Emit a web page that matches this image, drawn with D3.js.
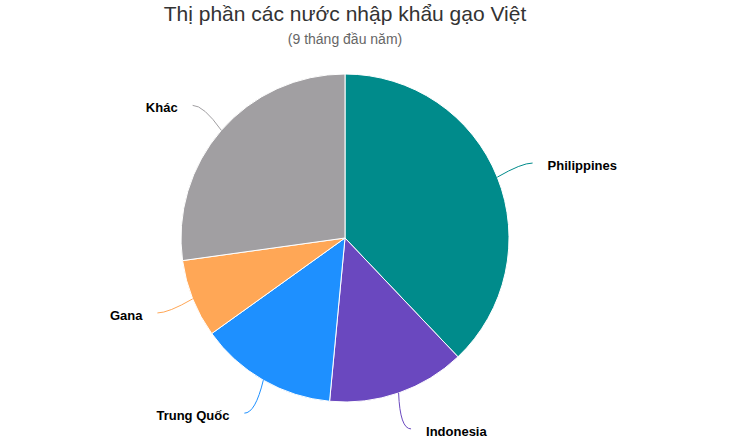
<!DOCTYPE html>
<html>
<head>
<meta charset="utf-8">
<script src="https://cdn.jsdelivr.net/npm/d3@7"></script>
<style>
  body { margin: 0; background: #fff; }
  text { font-family: Arial, "Liberation Sans", sans-serif; }
</style>
</head>
<body>
<div class="chart"></div>
<script>
// data (share of Vietnamese rice imports, %)
var countries = ["Philippines", "Indonesia", "Trung Quốc", "Gana", "Khác"];
var shares = [37.9, 13.6, 13.6, 7.7, 27.2];
var sliceColors = ["#008b8b", "#6a48bf", "#1e90ff", "#ffa756", "#a19fa2"];

var svgWidth = 730;
var svgHeight = 438;

var cx = 345, cy = 238, radius = 164;

var svg = d3.select(".chart")
  .append("svg")
  .attr("width", svgWidth)
  .attr("height", svgHeight);

// titles
svg.append("text")
  .attr("x", cx)
  .attr("y", 21)
  .attr("text-anchor", "middle")
  .attr("font-size", "21px")
  .attr("fill", "#333")
  .text("Thị phần các nước nhập khẩu gạo Việt");

svg.append("text")
  .attr("x", cx)
  .attr("y", 44)
  .attr("text-anchor", "middle")
  .attr("font-size", "14px")
  .attr("fill", "#666")
  .text("(9 tháng đầu năm)");

var data = countries.map(function(c, i) {
  return { name: c, value: shares[i], color: sliceColors[i] };
});

var pie = d3.pie()
  .sort(null)
  .value(d => d.value);

var arc = d3.arc()
  .innerRadius(0)
  .outerRadius(radius);

var chartGroup = svg.append("g")
  .attr("transform", `translate(${cx}, ${cy})`);

var arcs = pie(data);

chartGroup.selectAll("path.slice")
  .data(arcs)
  .enter()
  .append("path")
  .attr("class", "slice")
  .attr("d", arc)
  .attr("fill", d => d.data.color)
  .attr("stroke", "#fff")
  .attr("stroke-width", 1);

// polar helper, angle measured clockwise from 12 o'clock
function polar(r, a) {
  return [r * Math.sin(a), -r * Math.cos(a)];
}

// connectors + labels
arcs.forEach(function(d) {
  var mid = (d.startAngle + d.endAngle) / 2;
  var start = polar(radius, mid);
  var end = polar(radius + 38, mid);
  var side = end[0] >= 0 ? 1 : -1;
  var ctrl = [end[0] - side * 11, end[1]];

  chartGroup.append("path")
    .attr("d", `M${start[0]},${start[1]} Q${ctrl[0]},${ctrl[1]} ${end[0]},${end[1]}`)
    .attr("fill", "none")
    .attr("stroke", d.data.color)
    .attr("stroke-width", 1);

  chartGroup.append("text")
    .attr("x", end[0] + side * 15)
    .attr("y", end[1] + 7)
    .attr("text-anchor", side > 0 ? "start" : "end")
    .attr("font-size", "13px")
    .attr("font-weight", "bold")
    .attr("fill", "#000")
    .text(d.data.name);
});
</script>
</body>
</html>
